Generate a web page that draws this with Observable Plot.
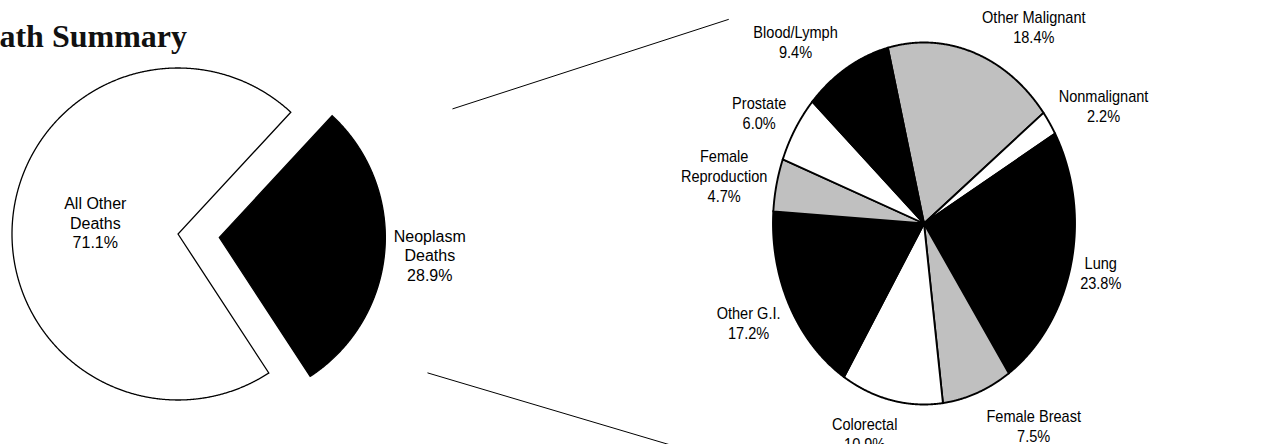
<!DOCTYPE html>
<html>
<head>
<meta charset="utf-8">
<script src="https://cdn.jsdelivr.net/npm/d3@7"></script>
<script src="https://cdn.jsdelivr.net/npm/@observablehq/plot@0.6"></script>
<style>
  body { margin: 0; background: #fff; }
  #wrap { position: relative; width: 1270px; height: 444px; overflow: hidden; background: #fff; }
  #chart { position: absolute; left: 0; top: 0; }
  #title { position: absolute; top: 20px; right: 1083px; font: bold 32px "Liberation Serif", "Times New Roman", serif;
           line-height: 1; white-space: nowrap; color: #111; }
</style>
</head>
<body>
<div id="wrap"><div id="chart"></div><div id="title">Death Summary</div></div>
<script>
// ---------------- DATA ----------------
const summaryCategories = ["Neoplasm Deaths", "All Other Deaths"];
const summaryLabels = ["Neoplasm\nDeaths", "All Other\nDeaths"];
const summaryPercents = [28.9, 71.1];

const neoplasmCategories = ["Other Malignant", "Nonmalignant", "Lung", "Female Breast", "Colorectal",
  "Other G.I.", "Female Reproduction", "Prostate", "Blood/Lymph"];
const neoplasmLabels = ["Other Malignant", "Nonmalignant", "Lung", "Female Breast", "Colorectal",
  "Other G.I.", "Female\nReproduction", "Prostate", "Blood/Lymph"];
const neoplasmPercents = [18.4, 2.2, 23.8, 7.5, 10.9, 17.2, 4.7, 6.0, 9.4];

// ---------------- STYLE ----------------
const GREY = "#c0c0c0";
const summaryPalette = ["black", "white"];
const neoplasmPalette = [GREY, "white", "black", GREY, "white", "black", GREY, "white", "black"];
const FONT = "'Liberation Sans', Arial, Helvetica, sans-serif";

// ---------------- LAYOUT ----------------
const W = 1270, H = 444;
const leftPie = {cx: 177.5, cy: 233.5, rx: 166, ry: 166, start: 42.8, explodeIndex: 0, explode: 0.25,
  fontSize: 16, lineHeight: 1.22, squeeze: 1, insideIndex: 1};
const rightPie = {cx: 923.5, cy: 223, rx: 151, ry: 181, start: -13.86, fontSize: 16, lineHeight: 1.25, squeeze: 0.91};

const rad = d => d * Math.PI / 180;
const clamp = v => Math.max(-1, Math.min(1, v));
const ctx = document.createElement("canvas").getContext("2d");
function blockWidth(text, fs) {
  ctx.font = `${fs}px ${FONT}`;
  return d3.max(text.split("\n"), l => ctx.measureText(l).width);
}

function buildPie(categories, labels, percents, palette, pie) {
  const total = d3.sum(percents);
  const points = [], texts = [];
  let a = pie.start;
  percents.forEach((p, i) => {
    const span = p / total * 360;
    const a0 = a, a1 = a + span, mid = a + span / 2;
    a = a1;
    let ox = 0, oy = 0;
    if (pie.explodeIndex === i) {
      ox = pie.explode * pie.rx * Math.sin(rad(mid));
      oy = -pie.explode * pie.ry * Math.cos(rad(mid));
    }
    const cx = pie.cx + ox, cy = pie.cy + oy;
    const key = categories[i];
    points.push({key, fill: palette[i], x: cx, y: cy});
    const steps = Math.max(2, Math.ceil(span / 0.25));
    for (let s = 0; s <= steps; ++s) {
      const t = rad(a0 + (a1 - a0) * s / steps);
      points.push({key, fill: palette[i], x: cx + pie.rx * Math.sin(t), y: cy - pie.ry * Math.cos(t)});
    }
    // label
    const text = `${labels[i]}\n${p.toFixed(1)}%`;
    const fs = pie.fontSize, L = pie.lineHeight;
    const n = text.split("\n").length;
    const sin = Math.sin(rad(mid)), cos = Math.cos(rad(mid));
    let vx, vy;
    if (pie.insideIndex === i) {
      vx = cx + 0.5 * pie.rx * sin;
      vy = cy - 0.5 * pie.ry * cos - 4;
    } else {
      const w = blockWidth(text, fs) * pie.squeeze;
      const h2 = ((n - 1) * L * fs + 0.716 * fs) / 2;
      const px = cx + pie.rx * sin, py = cy - pie.ry * cos;
      vx = px + clamp(3 * sin) * (w / 2 + 9);
      vy = py - clamp(1.15 * cos) * (h2 + (cos > 0 ? 10 : 18));
    }
    // convert visual centre to Plot's middle line anchor
    const y = vy - (0.32 * L * fs - 0.358 * fs);
    texts.push({text, x: vx, y});
  });
  return {points, texts};
}

const left = buildPie(summaryCategories, summaryLabels, summaryPercents, summaryPalette, leftPie);
const right = buildPie(neoplasmCategories, neoplasmLabels, neoplasmPercents, neoplasmPalette, rightPie);

// callout lines from the left pie's neoplasm slice toward the breakdown pie
const polar = (pie, bearing, k) => [pie.cx + k * pie.rx * Math.sin(rad(bearing)), pie.cy - k * pie.ry * Math.cos(rad(bearing))];
const onRight = (u, v) => [rightPie.cx + u * rightPie.rx, rightPie.cy + v * rightPie.ry];
const connectors = [
  {from: polar(leftPie, 65.5, 1.817), to: onRight(-1.293, -1.128)},
  {from: polar(leftPie, 119.1, 1.72), to: onRight(-1.613, 1.24)}
];

const chart = Plot.plot({
  width: W, height: H, margin: 0,
  x: {type: "identity", axis: null},
  y: {type: "identity", axis: null},
  color: {type: "identity"},
  style: {fontFamily: FONT, background: "white", color: "black", overflow: "hidden"},
  marks: [
    Plot.line(left.points, {x: "x", y: "y", z: "key", fill: "fill", stroke: "black", strokeWidth: 1.3,
      curve: "linear-closed", strokeLinejoin: "miter", strokeMiterlimit: 4}),
    Plot.line(right.points, {x: "x", y: "y", z: "key", fill: "fill", stroke: "black", strokeWidth: 1.9,
      curve: "linear-closed", strokeLinejoin: "miter", strokeMiterlimit: 4}),
    Plot.link(connectors, {x1: d => d.from[0], y1: d => d.from[1], x2: d => d.to[0], y2: d => d.to[1],
      stroke: "black", strokeWidth: 1}),
    Plot.text(left.texts, {x: "x", y: "y", text: "text", fontSize: leftPie.fontSize, lineHeight: leftPie.lineHeight,
      fill: "black", textAnchor: "middle"}),
    Plot.text(right.texts, {x: "x", y: "y", text: "text", fontSize: rightPie.fontSize, lineHeight: rightPie.lineHeight,
      fill: "black", textAnchor: "middle"})
  ]
});

// slightly condensed lettering for the breakdown pie's labels
const textGroups = chart.querySelectorAll('g[aria-label="text"]');
if (textGroups.length > 1) {
  textGroups[1].querySelectorAll("text").forEach(t => {
    const tr = t.getAttribute("transform");
    if (tr) t.setAttribute("transform", `${tr} scale(${rightPie.squeeze},1)`);
  });
}
document.getElementById("chart").appendChild(chart);
</script>
</body>
</html>
